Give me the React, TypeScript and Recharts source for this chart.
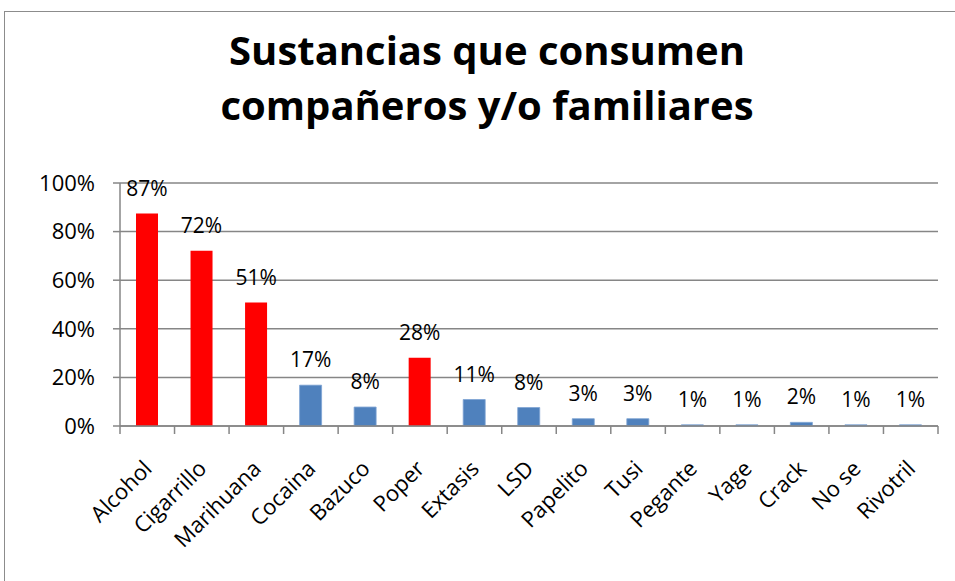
import React from "react"
import { BarChart, Bar, XAxis, YAxis, CartesianGrid, Cell, LabelList } from "recharts"

const categories = [
  "Alcohol", "Cigarrillo", "Marihuana", "Cocaina", "Bazuco", "Poper", "Extasis", "LSD",
  "Papelito", "Tusi", "Pegante", "Yage", "Crack", "No se", "Rivotril",
]
// percentages (labels show them rounded)
const values = [87.4, 72.1, 50.8, 16.8, 7.8, 28.1, 10.9, 7.6, 3.0, 3.0, 0.5, 0.5, 1.5, 0.5, 0.5]
const highlighted = ["Alcohol", "Cigarrillo", "Marihuana", "Poper"]
const yTicks = [0, 20, 40, 60, 80, 100]
const titleLines = ["Sustancias que consumen", "compañeros y/o familiares"]

const data = categories.map((name, i) => ({ name, value: values[i] }))

const W = 955
const H = 581
const PLOT_LEFT = 120
const PLOT_RIGHT = 938
const PLOT_TOP = 183
const PLOT_BOTTOM = 426
const BAND = (PLOT_RIGHT - PLOT_LEFT) / categories.length
const FONT = "'Open Sans', sans-serif"
const GRID = "#868686"

function CategoryTick(props: any) {
  const { x, y, payload, index } = props
  const left = x - BAND / 2
  return (
    <g>
      <line x1={left} y1={y} x2={left} y2={y + 8} stroke={GRID} strokeWidth={1.5} />
      {index === categories.length - 1 && (
        <line x1={x + BAND / 2} y1={y} x2={x + BAND / 2} y2={y + 8} stroke={GRID} strokeWidth={1.5} />
      )}
      <text
        x={x + 6}
        y={y + 44}
        textAnchor="end"
        transform={`rotate(-45, ${x + 6}, ${y + 44})`}
        fontFamily={FONT}
        fontSize={22}
        fill="#000"
      >
        {payload.value}
      </text>
    </g>
  )
}

export default function App() {
  return (
    <div style={{ position: "absolute", left: 0, top: 0, width: W, height: H, overflow: "hidden", background: "#fff" }}>
      <div
        style={{
          position: "absolute",
          left: 4,
          top: 11,
          width: 1200,
          height: 1200,
          border: "1.5px solid #8c8c8c",
        }}
      />
      <div
        style={{
          position: "absolute",
          left: 8,
          width: 958,
          top: 22,
          textAlign: "center",
          fontFamily: FONT,
          fontWeight: 700,
          fontSize: 40,
          lineHeight: "55px",
          color: "#000",
        }}
      >
        {titleLines.map((t) => (
          <div key={t}>{t}</div>
        ))}
      </div>
      <div style={{ position: "absolute", left: 0, top: 0 }}>
        <BarChart
          width={W}
          height={H}
          data={data}
          margin={{ top: PLOT_TOP, right: W - PLOT_RIGHT, bottom: 40, left: 10 }}
        >
          <CartesianGrid vertical={false} stroke={GRID} strokeWidth={1.5} />
          <XAxis
            dataKey="name"
            interval={0}
            height={H - PLOT_BOTTOM - 40}
            tickSize={0}
            tickMargin={0}
            tick={<CategoryTick />}
            axisLine={{ stroke: GRID, strokeWidth: 1.5 }}
            tickLine={false}
          />
          <YAxis
            width={PLOT_LEFT - 10}
            domain={[0, 100]}
            ticks={yTicks}
            tickFormatter={(v) => `${v}%`}
            tickSize={7}
            tickMargin={18}
            axisLine={{ stroke: GRID, strokeWidth: 1.5 }}
            tickLine={{ stroke: GRID, strokeWidth: 1.5 }}
            tick={{ fill: "#000", fontFamily: FONT, fontSize: 22 }}
          />
          <Bar dataKey="value" barSize={22} isAnimationActive={false}>
            {data.map((d) => (
              <Cell
                key={d.name}
                fill={highlighted.includes(d.name) ? "#FF0000" : "#4F81BD"}
                stroke={highlighted.includes(d.name) ? "none" : "#7ea3d3"}
                strokeWidth={0.8}
              />
            ))}
            <LabelList
              dataKey="value"
              position="top"
              offset={18}
              formatter={(v: any) => `${Math.round(Number(v))}%`}
              style={{ fill: "#000", fontFamily: FONT, fontSize: 21 }}
            />
          </Bar>
        </BarChart>
      </div>
    </div>
  )
}
